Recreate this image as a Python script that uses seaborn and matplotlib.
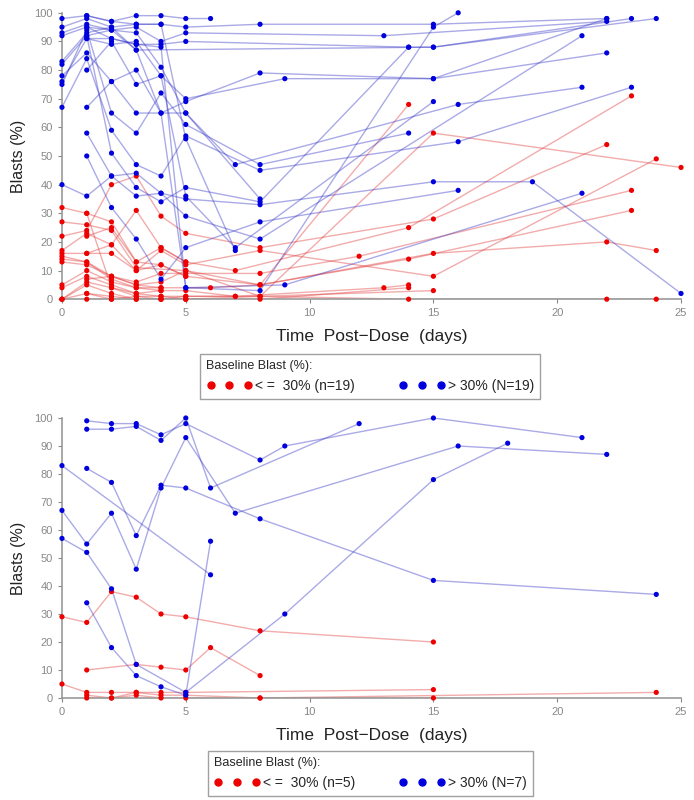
import pandas as pd
import numpy as np
import seaborn as sns
import matplotlib.pyplot as plt
from matplotlib.lines import Line2D

# ---- top panel: one list of days and one list of blast values per subject ----
top_red_days = [
    [0, 1, 2, 3, 4, 5, 8, 14], [0, 1, 2, 3, 5, 8, 15, 25], [0, 1, 2, 3, 4, 5, 8, 15, 22],
    [0, 1, 2, 3, 4, 5, 7, 14, 23], [0, 1, 2, 3, 4, 5, 8, 15, 24], [0, 1, 2, 3, 4, 5, 8, 12, 23],
    [0, 1, 2, 3, 4, 5, 8, 14, 23], [0, 1, 2, 3, 4, 6, 8, 15, 22, 24], [0, 1, 2, 3, 4, 5, 7, 13, 14],
    [0, 1, 2, 3, 4, 5, 8, 15], [0, 1, 2, 3, 4, 5, 8, 14, 22, 24], [1, 2, 3, 4, 5, 8, 14],
    [1, 2, 3, 4, 5, 7], [1, 2, 3, 4, 5], [1, 2, 3, 4, 5], [0, 1, 2, 3, 4], [1, 2, 3, 4],
    [1, 2, 3, 4, 5], [0, 1, 2],
]
top_red_vals = [
    [32, 30, 27, 13, 12, 8, 5, 68], [27, 26, 24, 11, 10, 1, 58, 46], [22, 24, 40, 43, 29, 23, 18, 28, 54],
    [17, 23, 19, 31, 18, 13, 10, 25, 71], [16, 16, 16, 10, 17, 12, 17, 8, 49], [15, 13, 8, 6, 9, 9, 9, 15, 38],
    [13, 12, 8, 5, 6, 10, 5, 14, 31], [5, 10, 6, 4, 4, 4, 5, 16, 20, 17], [4, 8, 5, 2, 3, 3, 1, 4, 5],
    [0, 6, 4, 1, 1, 1, 1, 3], [0, 5, 2, 0, 0, 0, 1, 0, 0, 0], [2, 1, 0, 0, 0, 0, 4],
    [0, 0, 1, 0, 1, 1], [22, 25, 13, 18, 13], [16, 19, 10, 12, 8], [14, 13, 7, 4, 3], [7, 8, 5, 4],
    [30, 4, 2, 1, 0], [0, 2, 0],
]
top_blue_days = [
    [0, 1, 2, 3, 4, 5, 6], [0, 1, 2, 3, 4, 5, 8, 15, 22], [0, 1, 2, 3, 4, 5, 13, 22],
    [0, 1, 2, 3, 4, 5, 14, 15, 23], [0, 1, 2, 3, 15, 24], [0, 1, 2, 3, 4, 5, 7, 16, 21],
    [0, 1, 2, 3, 4, 5, 8, 15, 22], [0, 1, 2, 3, 4, 5, 9, 15, 22], [0, 1, 2, 3, 4, 5, 8, 14],
    [0, 1, 2, 3, 4, 5, 8, 16, 23], [0, 1, 2, 3, 4, 5, 8, 15, 19, 25], [1, 2, 3, 4, 5, 8, 14],
    [1, 2, 3, 4, 5, 7, 15], [1, 2, 3, 4, 5, 8, 21], [1, 2, 3, 4, 5, 8, 16],
    [1, 2, 3, 4, 5, 7], [1, 2, 3, 4, 5, 8, 15, 16], [1, 2, 3, 4, 5, 9, 21], [1, 2, 3, 5, 8],
]
top_blue_vals = [
    [98, 99, 97, 99, 99, 98, 98], [95, 98, 95, 96, 96, 95, 96, 96, 98], [93, 96, 94, 95, 90, 93, 92, 97],
    [92, 95, 91, 89, 89, 90, 88, 88, 98], [83, 93, 95, 87, 88, 98], [82, 92, 94, 93, 81, 65, 47, 68, 74],
    [78, 86, 76, 80, 65, 69, 79, 77, 86], [76, 91, 89, 90, 78, 70, 77, 77, 98], [75, 94, 65, 58, 72, 61, 47, 58],
    [67, 84, 59, 47, 43, 57, 45, 55, 74], [40, 36, 43, 44, 37, 35, 33, 41, 41, 2], [92, 51, 39, 34, 39, 34, 88],
    [80, 90, 75, 78, 36, 18, 69], [58, 43, 36, 37, 29, 21, 92], [50, 32, 21, 7, 18, 27, 38],
    [99, 97, 96, 96, 56, 17], [91, 91, 89, 88, 4, 3, 95, 100], [95, 94, 87, 65, 4, 5, 37], [67, 76, 65, 65, 35],
]

# ---- bottom panel ----
bot_red_days = [[0, 1, 2, 3, 4, 5, 8, 15], [1, 3, 4, 5, 6, 8], [0, 1, 2, 3, 4, 5, 15],
                [1, 2, 3, 4, 5, 8, 24], [1, 2, 3, 4, 5, 8, 15]]
bot_red_vals = [[29, 27, 38, 36, 30, 29, 24, 20], [10, 12, 11, 10, 18, 8], [5, 2, 2, 2, 2, 2, 3],
                [1, 0, 2, 1, 1, 0, 2], [0, 0, 1, 0, 0, 0, 0]]
bot_blue_days = [[1, 2, 3, 4, 5, 8, 9, 15, 21], [1, 2, 3, 4, 5, 6, 12], [0, 6],
                 [1, 2, 3, 4, 5, 8, 15, 24], [0, 1, 2, 3, 4, 5, 7, 16, 22],
                 [0, 1, 2, 3, 5, 9, 15, 18], [1, 2, 3, 4, 5, 6]]
bot_blue_vals = [[99, 98, 98, 94, 98, 85, 90, 100, 93], [96, 96, 97, 92, 100, 75, 98], [83, 44],
                 [82, 77, 58, 76, 75, 64, 42, 37], [67, 55, 66, 46, 75, 93, 66, 90, 87],
                 [57, 52, 39, 12, 2, 30, 78, 91], [34, 18, 8, 4, 1, 56]]

top_labels = ['< =  30% (n=19)', '> 30% (N=19)']
bot_labels = ['< =  30% (n=5)', '> 30% (N=7)']


def to_frame(red_days, red_vals, blue_days, blue_vals):
    rows = []
    for grp, dd, vv in (('low', red_days, red_vals), ('high', blue_days, blue_vals)):
        for i, (d, v) in enumerate(zip(dd, vv)):
            for x, y in zip(d, v):
                rows.append({'subject': f'{grp}{i}', 'group': grp, 'day': x, 'blast': y})
    return pd.DataFrame(rows)


line_pal = {'low': '#e03a3a', 'high': '#3535c8'}
dot_pal = {'low': '#ee0000', 'high': '#0000dd'}

sns.set_style('white')
plt.rcParams['font.family'] = ['Liberation Sans', 'DejaVu Sans']
fig = plt.figure(figsize=(6.94, 8), dpi=100)

panels = [
    (to_frame(top_red_days, top_red_vals, top_blue_days, top_blue_vals), [0.0893, 0.626, 0.892, 0.358], top_labels, 0.5575),
    (to_frame(bot_red_days, bot_red_vals, bot_blue_days, bot_blue_vals), [0.0893, 0.1275, 0.892, 0.35], bot_labels, 0.0615),
]

for df, rect, labels, leg_top in panels:
    ax = fig.add_axes(rect)
    sns.lineplot(data=df, x='day', y='blast', hue='group', units='subject', estimator=None,
                 palette=line_pal, alpha=0.42, lw=1, legend=False, ax=ax)
    sns.scatterplot(data=df, x='day', y='blast', hue='group', palette=dot_pal,
                    s=14, linewidth=0, legend=False, ax=ax, zorder=3, clip_on=False)
    ax.set_xlim(0, 25)
    ax.set_ylim(0, 100)
    ax.set_xticks(range(0, 26, 5))
    ax.set_yticks(range(0, 101, 10))
    for s in ['top', 'right']:
        ax.spines[s].set_visible(False)
    for s in ['left', 'bottom']:
        ax.spines[s].set_color('#999999')
        ax.spines[s].set_linewidth(1.2)
    ax.tick_params(axis='both', colors='#888888', labelsize=8, length=3, direction='out',
                   bottom=True, left=True)
    ax.set_ylabel('Blasts (%)', fontsize=11.5, color='#222222', labelpad=6)
    ax.set_xlabel('Time  Post\u2212Dose  (days)', fontsize=12.5, color='#222222', labelpad=8)
    for t in ax.get_xticklabels() + ax.get_yticklabels():
        t.set_color('#888888')

    handles = [Line2D([], [], ls='none', marker='o', ms=5, color=dot_pal['low']),
               Line2D([], [], ls='none', marker='o', ms=5, color=dot_pal['high'])]
    leg = fig.legend(handles, labels, ncol=2, numpoints=3, loc='upper center',
                     bbox_to_anchor=(0.5335, leg_top), borderaxespad=0, frameon=True,
                     fancybox=False, edgecolor='#888888', fontsize=10, title='Baseline Blast (%):',
                     title_fontsize=9, alignment='left', handlelength=3.3,
                     handletextpad=0.2, columnspacing=3.2, borderpad=0.45)
    leg.get_frame().set_linewidth(1.0)

fig.savefig('out.png', dpi=100)
